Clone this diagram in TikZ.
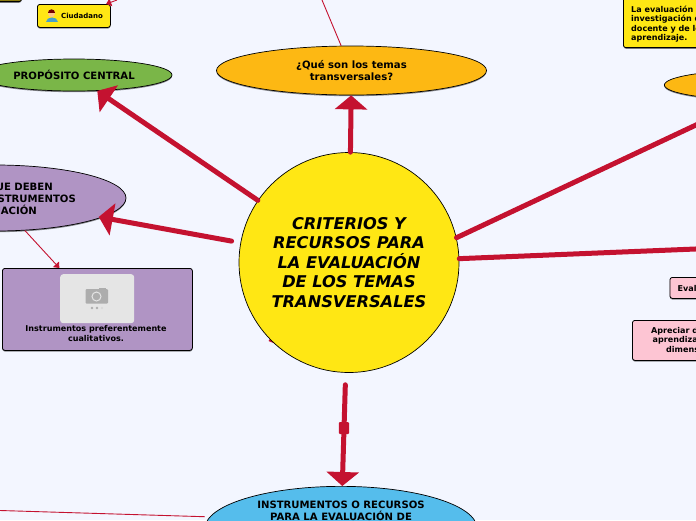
\documentclass[tikz,border=0pt]{standalone}
\usepackage{fontspec}
\setmainfont{DejaVu Sans}
\usepackage{xcolor}
\usetikzlibrary{shapes.geometric,arrows.meta,shadows}

\definecolor{fondo}{HTML}{F3F6FF}
\definecolor{rojo}{HTML}{C41230}
\definecolor{amarillo}{HTML}{FFE714}
\definecolor{naranja}{HTML}{FDB813}
\definecolor{verde}{HTML}{7AB648}
\definecolor{morado}{HTML}{B094C4}
\definecolor{azul}{HTML}{55BDEC}
\definecolor{rosa}{HTML}{FDC5D3}
\definecolor{oliva}{HTML}{8A7A10}

\tikzset{
    sombra/.style={drop shadow={shadow xshift=0pt,shadow yshift=-1.2pt,opacity=.45,fill=black}},
    elipse/.style={draw=black,line width=0.7pt,ellipse,inner sep=0pt,sombra,font=\bfseries\fontsize{10.1}{12}\selectfont,align=center},
    caja/.style={draw=black,line width=0.8pt,rectangle,rounded corners=2.5pt,inner sep=0pt,sombra},
    textogrande/.style={inner sep=0pt,font=\bfseries\fontsize{10.1}{12}\selectfont},
    textochico/.style={inner sep=0pt,font=\bfseries\fontsize{8.05}{9.6}\selectfont},
    rama/.style={draw=rojo,line width=5pt,line cap=round},
    ramita/.style={draw=rojo,line width=0.9pt},
    punta/.style={-{Triangle[length=14pt,width=32pt,color=rojo]}},
    puntita/.style={-{Triangle[length=5pt,width=8pt,color=rojo]}},
}

\begin{document}
\begin{tikzpicture}[x=1pt,y=-1pt]
    \path[use as bounding box,clip] (0,0) rectangle (696,520);
    \fill[fondo] (0,0) rectangle (696,520);
    \fill[rojo] (268.5,341) -- (272,336) -- (276,344) -- cycle;

    % nodos
    \node[circle,draw=black,line width=0.7pt,fill=amarillo,minimum size=220pt,inner sep=0pt,align=center,
        font=\bfseries\itshape\fontsize{16.2}{19.5}\selectfont] (centro) at (349,262.5)
        {CRITERIOS Y\\RECURSOS PARA\\LA EVALUACIÓN\\DE LOS TEMAS\\TRANSVERSALES};
    \node[elipse,fill=naranja,minimum width=270pt,minimum height=49pt] (temas) at (351.5,70.5)
        {¿Qué son los temas\\transversales?};
    \node[elipse,fill=verde,minimum width=196pt,minimum height=32pt] (proposito) at (74,75)
        {PROPÓSITO CENTRAL};
    \node[elipse,fill=morado,minimum width=262pt,minimum height=66pt] (deben) at (-5,198) {};
    \node[textogrande,anchor=east,align=right] (debentxt) at (76,198.5)
        {QUE DEBEN\hspace*{23pt}\\INSTRUMENTOS\\EVALUACIÓN\hspace*{39pt}};
    \node[elipse,fill=azul,minimum width=272pt,minimum height=84pt,anchor=north] (recursos) at (341,486) {};
    \node[textogrande,anchor=north,align=center] (recursostxt) at (341,500.5)
        {INSTRUMENTOS O RECURSOS\\PARA LA EVALUACIÓN DE};
    \node[elipse,fill=naranja,minimum width=190pt,minimum height=30pt,anchor=west] (derecha) at (664,85) {};

    \node[caja,fill=amarillo,minimum width=73pt,minimum height=23pt,anchor=north west] (ciudadano) at (37,4) {};
    \node[anchor=west,inner sep=0pt,font=\bfseries\fontsize{7}{8}\selectfont] (ciudadanotxt) at (61,15.5) {Ciudadano};
    \node[caja,fill=oliva,minimum width=40pt,minimum height=10pt,anchor=south east] (oliva) at (22,2) {};
    \node[caja,fill=amarillo,minimum width=120pt,minimum height=70pt,anchor=south west] (evaluacion) at (623,48) {};
    \node[textochico,anchor=north west,align=left] (evaluaciontxt) at (631,5.5)
        {La evaluación d\\investigación d\\docente y de le\\aprendizaje.};
    \node[caja,fill=morado,minimum width=190pt,minimum height=82pt,anchor=north west] (cualitativos) at (2,268) {};
    \node[textochico,anchor=north,align=center] (cualitativostxt) at (96,325.5)
        {Instrumentos preferentemente\\cualitativos.};
    \node[caja,fill=rosa,minimum width=60pt,minimum height=21pt,anchor=north west] (eval) at (669.5,277) {};
    \node[textochico,anchor=west] (evaltxt) at (677.5,288) {Eval};
    \node[caja,fill=rosa,minimum width=100pt,minimum height=40pt,anchor=north west] (apreciar) at (632,320) {};
    \node[textochico,anchor=north west,align=left] (apreciartxt) at (651,327)
        {Apreciar d\\\hspace*{1.5pt}aprendiza\\\hspace*{15pt}dimens};

    % imagen del recuadro morado
    \node[fill=black!10,rectangle,rounded corners=3pt,minimum width=74pt,minimum height=49pt,inner sep=0pt,anchor=north west] (foto) at (60,274) {};
    \fill[black!32,rounded corners=1pt] (85.5,289) rectangle (108,303.5);
    \fill[black!32] (99,289) rectangle (106,287.5);
    \draw[black!10,line width=1pt,fill=black!32] (96.5,296.5) circle (4.5);
    \fill[black!32] (92,308) circle (1.4);
    \fill[black!32] (97,308) circle (1.4);
    \fill[black!15] (102,308) circle (1.4);

    % icono del ciudadano
    \fill[azul!85!black] (45.5,21.5) .. controls (45.5,15.5) and (57.5,15.5) .. (57.5,21.5) -- cycle;
    \fill[orange!45!white] (51.5,13.8) circle (3.4);
    \fill[red!45!black] (48,12.8) arc (180:360:3.5) -- cycle;

    % conectores
    \coordinate (derA) at (720,113.7);
    \coordinate (derB) at (720,248);
    \coordinate (arribaTemas) at (322,0);
    \coordinate (arribaCiudadano) at (117,0);
    \coordinate (izqRecursos) at (0,510.5);
    \draw[rama] (centro.13) -- (derA);
    \draw[rama] (centro.2) -- (derB);
    \draw[rama,punta] (centro) -- (temas);
    \draw[rama,punta] (centro) -- (proposito);
    \draw[rama,punta,shorten <=9pt,shorten >=-3pt] (centro) -- (deben);
    \draw[rama,punta,shorten <=12pt] (centro) -- (recursos);
    \fill[rojo,rounded corners=1pt] (338.8,422) rectangle (349,434);
    \draw[ramita] (arribaTemas) -- (temas);
    \draw[ramita,shorten >=5pt] (izqRecursos) -- (recursos.175);
    \draw[ramita,puntita] (deben) -- (cualitativos);
    \draw[ramita,puntita] (arribaCiudadano) -- (ciudadano);
\end{tikzpicture}
\end{document}
